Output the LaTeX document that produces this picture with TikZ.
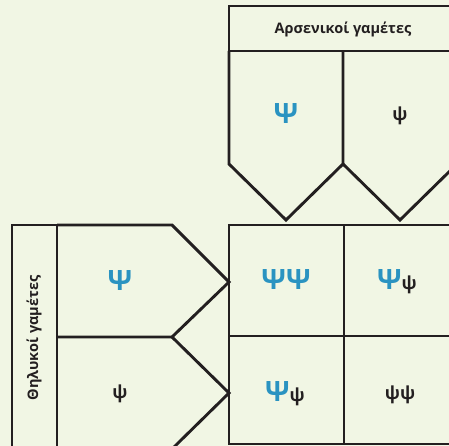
\documentclass[tikz,border=0pt]{standalone}
\usepackage{fontspec}
\setmainfont{Open Sans}
\definecolor{bgcol}{HTML}{F1F6E4}
\definecolor{psiblue}{HTML}{2A93C1}
\definecolor{edgecol}{HTML}{231F20}
\tikzset{
  cellline/.style={draw=edgecol,line width=2.9pt,line join=miter},
  bigpsi/.style={font=\fontsize{28}{28}\selectfont\bfseries,text=psiblue},
  smallpsi/.style={font=\fontsize{18}{18}\selectfont\bfseries,text=edgecol},
  headtext/.style={font=\fontsize{14.5}{16}\selectfont\bfseries,text=edgecol}
}
\newcommand{\lowpsi}{{\color{edgecol}\fontsize{18}{18}\selectfont ψ}}
\begin{document}
\begin{tikzpicture}[x=1pt,y=-1pt]
  \fill[bgcol] (0,0) rectangle (449,446);
  \useasboundingbox (0,0) rectangle (449,446);
  \clip (0,0) rectangle (449,446);
  % male gametes
  \draw[cellline] (229,6) rectangle (457,51);
  \draw[cellline] (229,51) -- (229,164) -- (286,220) -- (343,164) -- (343,51);
  \draw[cellline] (343,164) -- (400,220) -- (457,164) -- (457,51);
  \node[headtext] (malehead) at (343,29) {Αρσενικοί γαμέτες};
  \node[bigpsi] (maleA) at (286,114) {Ψ};
  \node[smallpsi] (malea) at (400,116) {ψ};
  % female gametes
  \draw[cellline] (12,470) rectangle (57,225);
  \draw[cellline] (57,225) -- (172,225) -- (229,282) -- (172,337) -- (57,337);
  \draw[cellline] (172,337) -- (229,393) -- (172,449);
  \node[headtext,rotate=90] (femhead) at (34,338) {Θηλυκοί γαμέτες};
  \node[bigpsi] (femA) at (120,281) {Ψ};
  \node[smallpsi] (fema) at (120,394) {ψ};
  % offspring
  \draw[cellline] (229,225) rectangle (457,444);
  \draw[cellline] (344,225) -- (344,444);
  \draw[cellline] (229,336) -- (457,336);
  \node[bigpsi] (kidAA) at (286,280) {ΨΨ};
  \node[bigpsi,anchor=base] (kidAa) at (397,289) {Ψ\lowpsi};
  \node[bigpsi,anchor=base] (kidaA) at (285,401) {Ψ\lowpsi};
  \node[smallpsi] (kidaa) at (400,395) {ψψ};
\end{tikzpicture}
\end{document}
